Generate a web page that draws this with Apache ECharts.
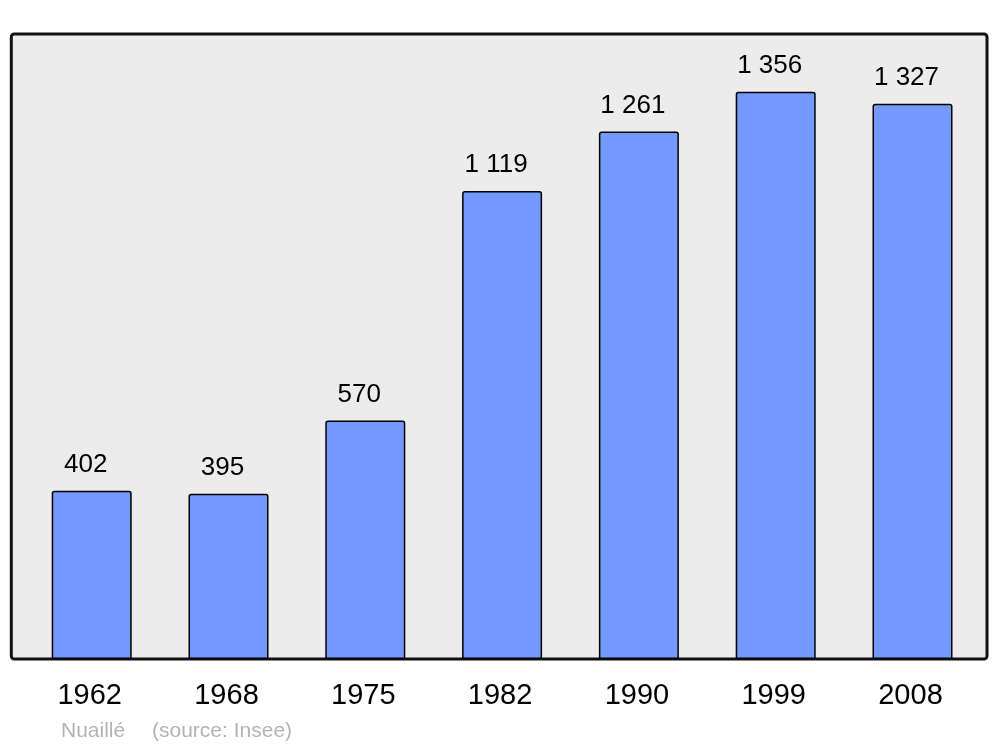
<!DOCTYPE html>
<html>
<head>
<meta charset="utf-8">
<script src="https://cdn.jsdelivr.net/npm/echarts@6/dist/echarts.min.js"></script>
<style>html,body{margin:0;padding:0;background:#fff}#c{width:1000px;height:747px}</style>
</head>
<body>
<div id="c"></div>
<script>
const years = ['1962', '1968', '1975', '1982', '1990', '1999', '2008'];
const population = [402, 395, 570, 1119, 1261, 1356, 1327];
const commune = 'Nuaillé';
const source = '(source: Insee)';

const fmt = v => String(v).replace(/\B(?=(\d{3})+(?!\d))/g, ' ');
const chart = echarts.init(document.getElementById('c'));
chart.setOption({
  animation: false,
  textStyle: { fontFamily: 'Liberation Sans, Arial, sans-serif' },
  graphic: [
    { type: 'rect', z: -10, shape: { x: 11.3, y: 34, width: 975.7, height: 625, r: 3 },
      style: { fill: '#ececec', stroke: '#111', lineWidth: 3 } },
    { type: 'text', left: 61, top: 721, style: { text: commune, fill: '#b3b3b3', font: '21px "Liberation Sans", Arial, sans-serif' } },
    { type: 'text', left: 152, top: 721, style: { text: source, fill: '#b3b3b3', font: '21px "Liberation Sans", Arial, sans-serif' } }
  ],
  grid: { left: 23.3, right: 19.1, top: 34, bottom: 88, containLabel: false },
  xAxis: {
    type: 'category', data: years,
    axisLine: { show: false }, axisTick: { show: false },
    axisLabel: { fontSize: 29, color: '#000', margin: 22, padding: [0, 4, 0, 0] }
  },
  yAxis: { type: 'value', min: 0, max: 1494, show: false, splitLine: { show: false } },
  series: [{
    type: 'bar', data: population, barWidth: 80,
    itemStyle: { color: '#7399ff', borderColor: '#000', borderWidth: 1.5, borderRadius: [2, 2, 0, 0] },
    label: { show: true, position: 'top', distance: 13, offset: [-6, 0], fontSize: 26, color: '#000', formatter: p => fmt(p.value) }
  }]
});
</script>
</body>
</html>
